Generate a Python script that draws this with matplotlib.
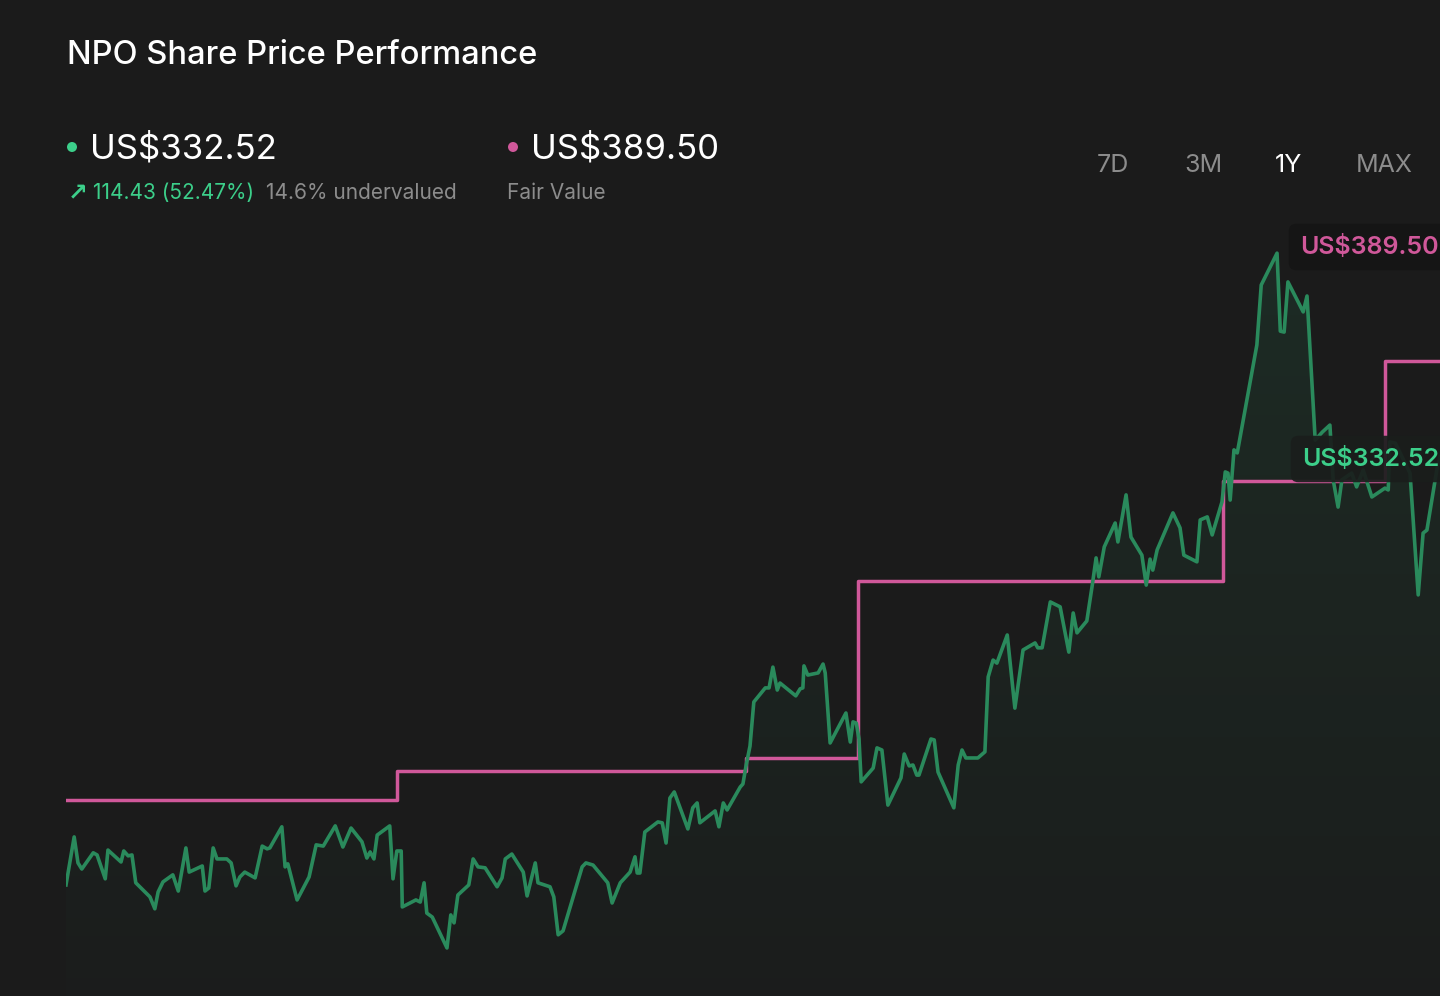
import numpy as np
import matplotlib
matplotlib.use("Agg")
import matplotlib.pyplot as plt
from matplotlib.patches import Ellipse

## Chart data (trading-day index, US$)
days = [0, 1.5, 2.2, 2.9, 5.0, 5.7, 7.2, 7.7, 10.1, 10.6, 11.4, 12.1, 12.8, 15.4, 16.3, 16.9,
        17.8, 19.6, 20.6, 22.0, 22.6, 25.0, 25.5, 26.2, 27.0, 27.7, 29.5, 30.3, 31.2, 31.9,
        32.8, 34.7, 36.0, 36.9, 37.4, 39.6, 40.2, 40.7, 42.4, 44.6, 45.9, 47.2, 49.4, 50.8,
        52.3, 54.3, 55.2, 55.8, 56.5, 57.1, 59.4, 60.0, 60.7, 61.5, 61.7, 64.2, 65.0, 65.7,
        66.2, 67.2, 69.9, 70.6, 71.2, 71.9, 73.9, 74.7, 75.6, 76.9, 79.1, 80.0, 80.6, 81.8,
        83.9, 84.6, 86.1, 86.6, 88.8, 89.5, 90.3, 91.2, 94.7, 95.4, 96.7, 99.4, 100.2, 101.7,
        103.5, 104.4, 104.8, 105.3, 106.2, 108.6, 109.4, 110.1, 110.8, 111.6, 114.1, 115.0,
        115.8, 116.3, 119.1, 119.8, 120.6, 121.3, 123.7, 124.2, 124.8, 125.5, 126.2, 128.3,
        129.0, 129.7, 130.5, 131.0, 133.9, 134.7, 135.2, 135.4, 136.1, 138.0, 138.9, 139.3,
        140.2, 143.1, 143.9, 144.4, 145.0, 145.5, 145.9, 148.1, 148.8, 149.7, 150.8, 153.2,
        153.8, 154.7, 155.4, 156.1, 156.5, 158.7, 159.3, 160.0, 162.9, 163.7, 164.4, 165.1,
        167.3, 168.6, 169.2, 170.1, 170.8, 172.7, 174.1, 175.6, 177.8, 178.3, 179.1, 180.6,
        182.4, 184.0, 184.8, 185.5, 187.3, 188.3, 189.0, 189.5, 190.5, 192.5, 193.0, 194.5,
        195.4, 197.4, 198.2, 198.9, 199.4, 200.2, 203.1, 204.4, 205.1, 207.5, 208.1, 209.4,
        210.3, 212.1, 212.7, 213.2, 213.6, 214.3, 214.9, 218.5, 219.3, 222.2, 222.8, 223.5,
        224.2, 227.0, 227.7, 229.2, 230.5, 231.9, 232.5, 233.4, 234.1, 235.9, 236.8, 238.0,
        239.6, 242.0, 242.6, 242.9, 243.9, 246.6, 248.1, 249.0, 249.7, 251.6, 252.1]

prices = [218.1, 233.8, 225.3, 223.3, 228.6, 227.9, 220.1, 229.5, 225.6, 229.2, 227.6, 227.9,
          218.8, 214.2, 210.3, 215.8, 219.1, 221.4, 216.1, 230.2, 222.3, 224.3, 216.1, 217.1,
          230.2, 226.6, 226.6, 225.3, 217.8, 220.7, 222.3, 220.4, 230.8, 229.9, 230.2, 237.1,
          224.0, 225.0, 213.2, 220.7, 231.2, 230.8, 237.4, 230.5, 236.7, 232.2, 226.9, 228.9,
          226.6, 234.4, 237.4, 220.1, 229.2, 229.2, 210.9, 213.2, 212.5, 218.8, 208.9, 207.6,
          197.5, 208.3, 205.7, 214.8, 218.1, 226.6, 224.0, 223.7, 217.5, 220.4, 226.6, 228.2,
          222.3, 214.5, 225.3, 218.8, 217.5, 214.2, 201.8, 203.1, 224.0, 225.3, 224.6, 218.8,
          212.2, 218.8, 222.3, 227.3, 222.0, 222.0, 235.4, 238.7, 238.4, 231.8, 246.5, 248.5,
          236.4, 243.3, 244.9, 238.4, 242.3, 237.1, 244.9, 242.6, 250.1, 251.1, 257.3, 263.5,
          277.9, 282.5, 282.5, 289.3, 281.8, 284.1, 279.9, 282.2, 282.5, 289.7, 286.7, 287.4,
          290.3, 287.4, 264.5, 274.3, 264.8, 271.4, 271.0, 265.8, 251.8, 256.3, 262.9, 262.2,
          244.2, 253.1, 260.9, 257.0, 257.3, 254.0, 254.0, 265.8, 265.5, 255.0, 243.3, 257.3,
          262.2, 259.6, 259.6, 261.6, 286.1, 291.6, 290.6, 299.8, 275.9, 294.9, 297.2, 295.6,
          295.6, 310.6, 309.0, 294.2, 307.0, 300.5, 304.4, 316.1, 325.0, 318.8, 328.6, 336.4,
          330.2, 345.6, 331.8, 325.9, 316.1, 324.6, 321.0, 327.6, 339.7, 334.8, 325.9, 323.7,
          337.4, 338.4, 332.5, 343.3, 353.1, 352.7, 343.9, 360.3, 359.3, 394.6, 414.2, 424.6,
          399.1, 398.8, 415.2, 405.4, 410.6, 363.5, 366.1, 368.4, 350.5, 341.6, 350.5, 352.7,
          348.2, 353.7, 344.9, 347.8, 347.2, 362.9, 362.5, 352.7, 312.9, 333.1, 334.1, 354.7,
          358.0]

fv_days = [0, 60.7, 124.8, 145.3, 212.3, 242.0, 252.1]
fv_values = [245.9, 255.4, 259.6, 317.4, 350.1, 389.5, 389.5]

ranges = ["7D", "3M", "1Y", "MAX"]
active_range = "1Y"

BG = "#1b1b1b"
GREEN_LINE = "#2a8a5c"
GREEN_TEXT = "#3ccf8a"
PINK = "#d0589a"
GREY = "#8c8c8c"
FONT = ["Inter", "DejaVu Sans"]

plt.rcParams["font.family"] = FONT

fig = plt.figure(figsize=(14.4, 9.96), dpi=100, facecolor=BG)
W, H = 1440, 996

ax = fig.add_axes([66 / W, 0, 1374 / W, 771 / H])
ax.set_facecolor(BG)
ax.set_xlim(0, 252.1)
ax.set_ylim(181.8, 433.8)
ax.axis("off")

## gradient fill under the price line
poly = ax.fill_between(days, prices, 181.8, color="none", lw=0)
grad = np.linspace(0.0, 1.0, 256).reshape(-1, 1)
cmap = matplotlib.colors.LinearSegmentedColormap.from_list(
    "g", [(0.16, 0.5, 0.34, 0.02), (0.16, 0.5, 0.34, 0.17)])
img = ax.imshow(grad, extent=[0, 252.1, 181.8, 433.8], origin="lower",
                aspect="auto", cmap=cmap, zorder=1)
img.set_clip_path(poly.get_paths()[0], transform=ax.transData)

ax.plot(days, prices, color=GREEN_LINE, lw=2.6, zorder=3)
ax.step(fv_days, fv_values, where="post", color=PINK, lw=2.5, zorder=2)

## header texts
fig.text(67 / W, 1 - 55 / H, "NPO Share Price Performance", color="white",
         fontsize=23.5, fontweight="medium", va="center", ha="left")

def dot(x, y, color):
    fig.add_artist(Ellipse((x / W, 1 - y / H), 10 / W, 10 / H, transform=fig.transFigure,
                           color=color, lw=0))

dot(72, 147, GREEN_TEXT)
fig.text(90 / W, 1 - 149 / H, "US$332.52", color="white", fontsize=25, va="center", ha="left")
fig.text(68 / W, 1 - 193 / H, "↗", color=GREEN_TEXT, fontsize=17, fontweight="bold",
         va="center", ha="left", family=["DejaVu Sans"])
fig.text(93 / W, 1 - 193 / H, "114.43 (52.47%)", color=GREEN_TEXT, fontsize=15,
         va="center", ha="left")
fig.text(266 / W, 1 - 193 / H, "14.6% undervalued", color=GREY, fontsize=15,
         va="center", ha="left")

dot(513, 147, PINK)
fig.text(531 / W, 1 - 149 / H, "US$389.50", color="white", fontsize=25, va="center", ha="left")
fig.text(507 / W, 1 - 193 / H, "Fair Value", color=GREY, fontsize=15, va="center", ha="left")

rx = [1113, 1203, 1289, 1384]
for r, x in zip(ranges, rx):
    fig.text(x / W, 1 - 166 / H, r, color="white" if r == active_range else GREY,
             fontsize=18, va="center", ha="center")

## value tags at the right edge
fig.text(1300 / W, 1 - 247 / H, "US$389.50", color=PINK, fontsize=18, fontweight="semibold",
         va="center", ha="left", zorder=5,
         bbox=dict(boxstyle="round,pad=0.45,rounding_size=0.3", fc="#151515", ec="none"))
fig.text(1302 / W, 1 - 459 / H, "US$332.52", color=GREEN_TEXT, fontsize=18, fontweight="semibold",
         va="center", ha="left", zorder=5,
         bbox=dict(boxstyle="round,pad=0.45,rounding_size=0.3", fc="#1a1e1c", ec="none",
                   alpha=0.92))

fig.savefig("out.png", dpi=100, facecolor=BG)
